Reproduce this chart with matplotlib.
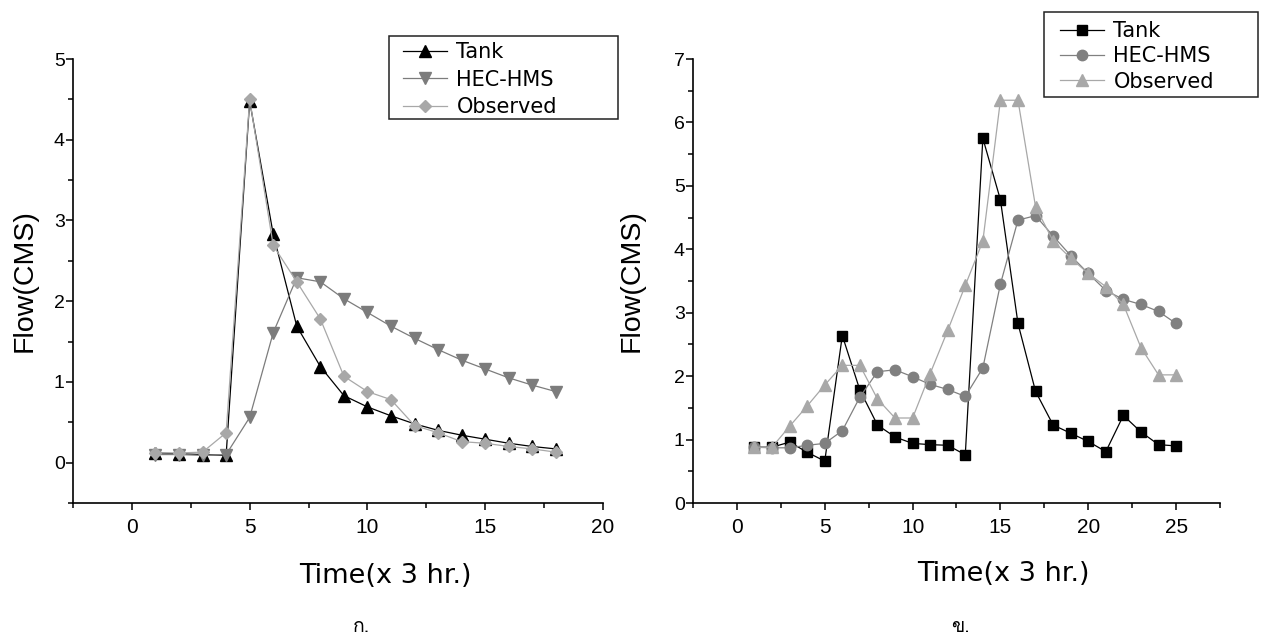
import matplotlib
matplotlib.use('Agg')
import matplotlib.pyplot as plt
from matplotlib.patches import Rectangle
from matplotlib.ticker import MultipleLocator
from matplotlib import font_manager as fm
from matplotlib.ft2font import FT2Font

# data ก. (left panel)
time_a = list(range(1, 19))
tank_a = [0.12, 0.11, 0.10, 0.09, 4.48, 2.83, 1.69, 1.19, 0.83, 0.69, 0.58, 0.48,
          0.40, 0.34, 0.29, 0.24, 0.20, 0.17]
hms_a = [0.10, 0.10, 0.09, 0.10, 0.56, 1.61, 2.29, 2.24, 2.03, 1.86, 1.69, 1.54,
         1.40, 1.27, 1.16, 1.05, 0.96, 0.88]
obs_a = [0.12, 0.12, 0.13, 0.37, 4.50, 2.69, 2.24, 1.78, 1.07, 0.88, 0.78, 0.46,
         0.37, 0.26, 0.24, 0.20, 0.17, 0.13]

# data ข. (right panel)
time_b = list(range(1, 26))
tank_b = [0.88, 0.88, 0.96, 0.80, 0.66, 2.64, 1.78, 1.23, 1.04, 0.94, 0.92, 0.91,
          0.76, 5.75, 4.78, 2.83, 1.76, 1.23, 1.10, 0.97, 0.81, 1.38, 1.12, 0.92, 0.90]
hms_b = [0.88, 0.87, 0.87, 0.91, 0.94, 1.14, 1.67, 2.07, 2.10, 1.99, 1.87, 1.79,
         1.68, 2.13, 3.45, 4.46, 4.53, 4.21, 3.90, 3.62, 3.35, 3.21, 3.13, 3.02, 2.83]
obs_b = [0.88, 0.88, 1.21, 1.53, 1.86, 2.17, 2.17, 1.64, 1.34, 1.34, 2.04, 2.72,
         3.43, 4.13, 6.35, 6.35, 4.67, 4.13, 3.86, 3.62, 3.41, 3.13, 2.45, 2.02, 2.02]

labels = ['Tank', 'HEC-HMS', 'Observed']

# find some font that has Thai glyphs
thai_font = 'DejaVu Sans'
for f in fm.fontManager.ttflist:
    try:
        if 0x0E01 in FT2Font(f.fname).get_charmap():
            thai_font = f.name
            break
    except Exception:
        pass

W, H = 1274, 638
fig = plt.figure(figsize=(W / 100, H / 100), dpi=100)
fig.patch.set_facecolor('white')

ax1 = fig.add_axes([73 / W, 135 / H, 530 / W, 444 / H])
ax2 = fig.add_axes([693 / W, 135 / H, 527 / W, 444 / H])


def style_axes(ax, xlim, ylim):
    ax.set_xlim(*xlim)
    ax.set_ylim(*ylim)
    ax.xaxis.set_major_locator(MultipleLocator(5))
    ax.xaxis.set_minor_locator(MultipleLocator(2.5))
    ax.yaxis.set_major_locator(MultipleLocator(1))
    ax.yaxis.set_minor_locator(MultipleLocator(0.5))
    for s in ['top', 'right']:
        ax.spines[s].set_visible(False)
    for s in ['left', 'bottom']:
        ax.spines[s].set_linewidth(1.2)
    ax.tick_params(which='major', direction='out', length=5, width=1.1)
    ax.tick_params(which='minor', direction='out', length=3.5, width=1.1)
    ax.tick_params(axis='x', which='major', pad=6, labelsize=15,
                   labelfontfamily='Liberation Sans')
    ax.tick_params(axis='y', which='major', pad=1, labelsize=14,
                   labelfontfamily='Liberation Sans')
    ax.set_xlabel('Time(x 3 hr.)', fontsize=19.5, family='DejaVu Sans')
    ax.set_ylabel('Flow(CMS)', fontsize=20.5, family='Liberation Sans')
    ax.xaxis.label.set_va('center')
    ax.yaxis.label.set_va('center')


style_axes(ax1, (-2.5, 20), (-0.5, 5))
style_axes(ax2, (-2.5, 27.5), (0, 7))
ax1.xaxis.set_label_coords(0.589, -0.165)
ax2.xaxis.set_label_coords(0.588, -0.16)
ax1.yaxis.set_label_coords(-0.092, 0.5)
ax2.yaxis.set_label_coords(-0.116, 0.5)

# left panel
ax1.plot(time_a, tank_a, '-^', color='black', lw=0.9, ms=8.5, label=labels[0])
ax1.plot(time_a, hms_a, '-v', color='#7c7c7c', lw=0.9, ms=8.5, label=labels[1])
ax1.plot(time_a, obs_a, '-D', color='#a8a8a8', lw=0.9, ms=6.5, label=labels[2])

# right panel
ax2.plot(time_b, tank_b, '-s', color='black', lw=0.9, ms=7.5, label=labels[0])
ax2.plot(time_b, hms_b, '-o', color='#808080', lw=0.9, ms=7.5, label=labels[1])
ax2.plot(time_b, obs_b, '-^', color='#a8a8a8', lw=0.9, ms=8, label=labels[2])

leg_kw = dict(frameon=False, loc='upper left', numpoints=1, handlelength=2.1,
              handletextpad=0.45, borderaxespad=0,
              prop={'family': 'DejaVu Sans', 'size': 15})
ax1.legend(bbox_to_anchor=(397 / W, 1 - 36 / H), bbox_transform=fig.transFigure,
           labelspacing=0.35, borderpad=0.3, **leg_kw)
ax2.legend(bbox_to_anchor=(1053 / W, 1 - 14 / H), bbox_transform=fig.transFigure,
           labelspacing=0.25, borderpad=0.35, **leg_kw)

# legend frames (wider on the right than the text, like the original)
for x0, y0, x1, y1 in [(389, 36, 618, 119), (1044, 12, 1258, 97)]:
    fig.add_artist(Rectangle((x0 / W, 1 - y1 / H), (x1 - x0) / W, (y1 - y0) / H,
                             transform=fig.transFigure, fill=False,
                             lw=1.1, ec='#222222'))

fig.text(362 / W, 1 - 627 / H, 'ก.', ha='center', va='center', fontsize=14,
         family=[thai_font, 'DejaVu Sans'])
fig.text(961 / W, 1 - 627 / H, 'ข.', ha='center', va='center', fontsize=14,
         family=[thai_font, 'DejaVu Sans'])

fig.savefig('out.png', dpi=100)
